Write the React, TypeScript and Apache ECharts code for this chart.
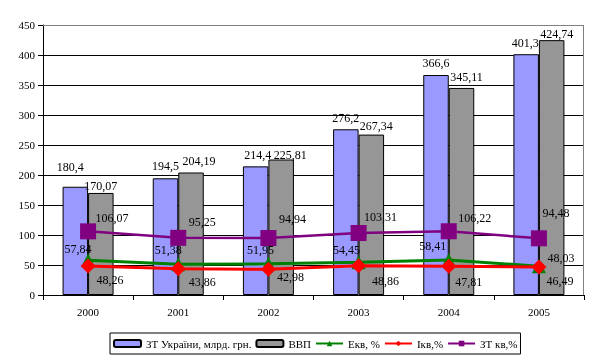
import React, { useEffect, useRef } from "react";
import * as echarts from "echarts";

const years = ["2000", "2001", "2002", "2003", "2004", "2005"];
const ztUkraine = [180.4, 194.5, 214.4, 276.2, 366.6, 401.3];
const vvp = [170.07, 204.19, 225.81, 267.34, 345.11, 424.74];
const ekv = [57.84, 51.38, 51.95, 54.45, 58.41, 48.03];
const ikv = [48.26, 43.86, 42.98, 48.86, 47.81, 46.49];
const ztKv = [106.07, 95.25, 94.94, 103.31, 106.22, 94.48];
const gridTicks = [50, 100, 150, 200, 250, 300, 350, 400, 450];
const yMax = 450;

// label placement tweaks (style only)
const ztBarOffsets = [[-5, -9], [0, -1], [2, 0], [0, 0], [0, -1], [-1, 0]];
const vvpBarOffsets = [[0, 4], [8, 0], [9, 6], [5, 2], [5, 0], [5, 5]];
const ekvOffsets = [[-10, -11], [-10, -14], [-8, -14], [-12, -12], [-16, -14], [22, -8]];
const ikvOffsets = [[22, 14], [24, 13], [22, 8], [27, 15], [20, 16], [21, 14]];
const ztKvOffsets = [[24, -13], [24, -16], [24, -19], [22, -16], [26, -13], [17, -25]];

const FONT = "'Liberation Serif', 'DejaVu Serif', serif";
const fmt = (p: any) => String(p.value).replace(".", ",");

const labelBase = {
  show: true,
  color: "#000",
  fontFamily: FONT,
  fontSize: 12,
  formatter: fmt,
};

function withOffsets(values: number[], offsets: number[][]) {
  return values.map((v, i) => ({
    value: v,
    label: { offset: offsets[i] },
  }));
}

function renderGridLine(params: any, api: any) {
  const v = api.value(1);
  const y = Math.floor(api.coord([0, v])[1]);
  const cs = params.coordSys;
  const isTop = v === yMax;
  const children: any[] = [
    {
      type: "rect",
      shape: { x: cs.x, y, width: cs.width, height: 1 },
      style: { fill: isTop ? "#808080" : "#000" },
    },
  ];
  if (isTop) {
    children.push({
      type: "rect",
      shape: { x: cs.x + cs.width - 1, y, width: 1, height: cs.height },
      style: { fill: "#808080" },
    });
  }
  return { type: "group", children };
}

export default function App() {
  const ref = useRef<HTMLDivElement>(null);
  useEffect(() => {
    if (!ref.current) return;
    const chart = echarts.init(ref.current, null, { renderer: "svg" });
    chart.setOption({
      animation: false,
      grid: {
        left: 43,
        right: 16,
        top: 25,
        bottom: 69,
      },
      legend: {
        left: 110,
        top: 333,
        padding: [5, 3, 5, 3],
        itemGap: 4,
        itemWidth: 27,
        itemHeight: 7,
        borderColor: "#000",
        borderWidth: 1,
        textStyle: { fontFamily: FONT, fontSize: 11, color: "#000" },
        data: ["ЗТ України, млрд. грн.", "ВВП", "Екв, %", "Ікв,%", "ЗТ кв,%"],
      },
      xAxis: {
        type: "category",
        data: years,
        boundaryGap: true,
        axisLine: { lineStyle: { color: "#000", width: 1 } },
        axisTick: { show: true, length: 5, lineStyle: { color: "#000" } },
        axisLabel: { color: "#000", fontFamily: FONT, fontSize: 11, margin: 11 },
        splitLine: { show: false },
      },
      yAxis: {
        type: "value",
        min: 0,
        max: yMax,
        interval: 50,
        axisLine: { show: true, lineStyle: { color: "#000", width: 1 } },
        axisTick: { show: true, length: 5, lineStyle: { color: "#000" } },
        axisLabel: { color: "#000", fontFamily: FONT, fontSize: 11, margin: 8 },
        splitLine: { show: true, lineStyle: { color: "#000", width: 1 } },
      },
      series: [
        {
          name: "grid",
          type: "custom",
          silent: true,
          clip: false,
          z: 1,
          data: gridTicks.map((v) => [0, v]),
          renderItem: renderGridLine,
        },
        {
          name: "ЗТ України, млрд. грн.",
          type: "bar",
          data: withOffsets(ztUkraine, ztBarOffsets),
          barWidth: 25.5,
          barGap: "0%",
          z: 3,
          itemStyle: { color: "#9999FF", borderColor: "#000", borderWidth: 1 },
          label: { ...labelBase, position: "top", distance: 5 },
        },
        {
          name: "ВВП",
          type: "bar",
          data: withOffsets(vvp, vvpBarOffsets),
          barWidth: 25.5,
          barGap: "0%",
          z: 3,
          itemStyle: { color: "#969696", borderColor: "#000", borderWidth: 1 },
          label: { ...labelBase, position: "top", distance: 5 },
        },
        {
          name: "Екв, %",
          type: "line",
          data: withOffsets(ekv, ekvOffsets),
          symbol: "triangle",
          symbolSize: 14,
          z: 4,
          lineStyle: { color: "#008000", width: 3 },
          itemStyle: { color: "#008000" },
          label: { ...labelBase, position: "inside" },
        },
        {
          name: "Ікв,%",
          type: "line",
          data: withOffsets(ikv, ikvOffsets),
          symbol: "diamond",
          symbolSize: 15,
          z: 5,
          lineStyle: { color: "#FF0000", width: 3 },
          itemStyle: { color: "#FF0000" },
          label: { ...labelBase, position: "inside" },
        },
        {
          name: "ЗТ кв,%",
          type: "line",
          data: withOffsets(ztKv, ztKvOffsets),
          symbol: "rect",
          symbolSize: 16,
          z: 4,
          lineStyle: { color: "#800080", width: 2.5 },
          itemStyle: { color: "#800080" },
          label: { ...labelBase, position: "inside" },
        },
      ],
    });
    return () => chart.dispose();
  }, []);
  return (
    <div
      ref={ref}
      style={{ position: "fixed", left: 0, top: 0, width: 600, height: 364 }}
    />
  );
}
